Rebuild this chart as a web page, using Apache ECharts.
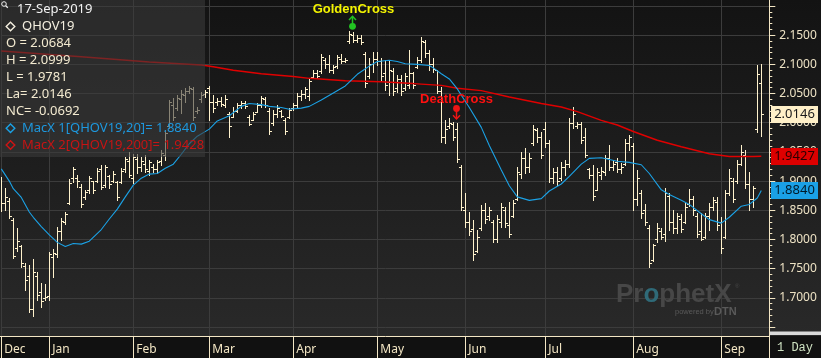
<!DOCTYPE html>
<html><head><meta charset="utf-8">
<script src="https://cdn.jsdelivr.net/npm/echarts@6/dist/echarts.min.js"></script>
<style>
html,body{margin:0;padding:0;background:#111;}
#c{width:821px;height:358px;background:linear-gradient(to bottom,#131313 0px,#292929 336px,#111 336px,#111 358px);}
</style></head><body><div id="c"></div>
<script>
// ---- categories (trading days) ----
const startDate = '2018-12-13', endDate = '2019-09-17';
const holidays = ['2018-12-25','2019-01-01','2019-01-21','2019-02-18','2019-04-19','2019-05-27','2019-07-04','2019-09-02'];
const monthNames = ['Jan','Feb','Mar','Apr','May','Jun','Jul','Aug','Sep','Oct','Nov','Dec'];

// ---- OHLC values ----
const opens = [1.890,1.862,1.866,1.833,1.785,1.788,1.755,1.738,1.680,1.738,1.710,1.700,
1.703,1.770,1.775,1.815,1.830,1.862,1.905,1.905,1.890,1.872,1.884,1.900,1.900,1.920,1.893,1.908,1.900,1.898,1.898,1.920,1.935,
1.905,1.938,1.925,1.930,1.918,1.925,1.920,1.935,1.945,1.995,2.030,2.025,2.040,2.048,2.055,2.058,2.020,2.040,2.050,
2.060,2.035,2.035,2.038,2.030,2.015,2.010,2.020,2.030,2.033,2.010,2.005,2.018,2.030,2.040,2.020,2.000,2.015,2.020,2.005,2.010,
2.025,2.030,2.045,2.050,2.045,2.078,2.085,2.088,2.108,2.100,2.090,2.098,2.110,2.106,2.140,2.150,2.142,2.145,2.118,2.080,2.100,
2.110,2.105,2.085,2.070,2.088,2.060,2.075,2.060,2.065,2.085,2.095,2.108,2.138,2.120,2.100,2.090,2.055,1.975,1.995,1.998,1.990,1.925,
1.850,1.830,1.818,1.780,1.820,1.850,1.840,1.830,1.800,1.830,1.850,1.825,1.840,1.870,1.912,1.940,1.925,1.965,1.988,1.975,
1.990,1.965,1.905,1.915,1.905,1.925,1.930,2.000,1.995,1.998,1.975,1.920,1.910,1.885,1.910,1.915,1.940,1.925,1.932,1.920,1.930,1.965,
1.960,1.870,1.880,1.850,1.820,1.765,1.800,1.815,1.810,1.875,1.830,1.820,1.835,1.830,1.860,1.870,1.840,1.815,1.805,1.840,1.855,1.865,
1.830,1.805,1.880,1.900,1.900,1.930,1.945,1.895,1.870,1.990,2.0684];
const highs = [1.907,1.888,1.871,1.836,1.819,1.790,1.759,1.756,1.766,1.744,1.725,1.723,
1.778,1.783,1.821,1.836,1.847,1.903,1.925,1.910,1.895,1.884,1.908,1.901,1.922,1.927,1.927,1.910,1.917,1.901,1.922,1.941,1.950,
1.946,1.946,1.941,1.944,1.936,1.929,1.936,1.953,1.987,2.039,2.042,2.047,2.056,2.059,2.063,2.061,2.027,2.052,2.056,
2.063,2.047,2.042,2.044,2.047,2.018,2.027,2.033,2.037,2.037,2.013,2.018,2.033,2.046,2.044,2.025,2.021,2.030,2.021,2.008,2.025,
2.033,2.051,2.056,2.061,2.076,2.090,2.090,2.117,2.111,2.116,2.099,2.116,2.117,2.111,2.157,2.155,2.150,2.150,2.121,2.111,2.121,
2.121,2.111,2.107,2.107,2.093,2.081,2.081,2.085,2.124,2.087,2.112,2.147,2.141,2.124,2.111,2.090,2.061,2.004,2.008,2.001,1.999,1.927,
1.879,1.847,1.833,1.816,1.859,1.862,1.855,1.833,1.842,1.862,1.855,1.864,1.867,1.924,1.950,1.956,1.948,1.996,1.991,1.984,
2.001,1.970,1.922,1.924,1.932,1.936,2.008,2.027,2.001,2.001,1.991,1.922,1.927,1.922,1.924,1.944,1.961,1.936,1.939,1.931,1.972,1.979,
1.965,1.919,1.884,1.860,1.824,1.793,1.828,1.819,1.889,1.879,1.850,1.845,1.843,1.864,1.886,1.874,1.845,1.845,1.845,1.862,1.872,1.872,
1.838,1.884,1.920,1.905,1.936,1.961,1.953,1.915,1.891,2.099,2.0999];
const lows = [1.849,1.850,1.836,1.768,1.781,1.752,1.713,1.675,1.668,1.696,1.684,1.696,
1.697,1.735,1.770,1.799,1.826,1.860,1.898,1.890,1.855,1.869,1.879,1.879,1.898,1.886,1.890,1.888,1.898,1.867,1.896,1.915,1.907,
1.896,1.914,1.918,1.915,1.910,1.915,1.914,1.927,1.936,1.991,2.004,2.021,2.016,2.035,2.051,2.004,2.016,2.035,2.044,
2.004,2.018,2.030,2.028,2.027,1.975,2.009,2.018,2.025,2.025,1.996,2.004,2.018,2.027,2.027,1.980,1.996,2.009,2.009,1.980,2.008,
2.021,2.027,2.039,2.042,2.039,2.076,2.076,2.085,2.093,2.087,2.085,2.093,2.102,2.104,2.136,2.138,2.138,2.135,2.061,2.076,2.087,
2.099,2.073,2.056,2.047,2.047,2.052,2.047,2.056,2.059,2.059,2.093,2.104,2.112,2.090,2.087,2.051,1.967,1.965,1.991,1.970,1.932,1.850,
1.821,1.807,1.764,1.778,1.816,1.828,1.833,1.795,1.795,1.821,1.821,1.804,1.838,1.867,1.905,1.914,1.915,1.961,1.967,1.939,
1.958,1.898,1.896,1.893,1.902,1.910,1.924,1.991,1.991,1.965,1.941,1.905,1.867,1.884,1.903,1.910,1.919,1.919,1.915,1.914,1.927,1.953,
1.850,1.859,1.836,1.824,1.752,1.763,1.795,1.800,1.797,1.816,1.811,1.811,1.812,1.829,1.857,1.842,1.804,1.799,1.802,1.816,1.850,1.816,
1.776,1.802,1.876,1.864,1.896,1.927,1.889,1.850,1.855,1.984,1.9781];
const closes = [1.862,1.872,1.840,1.772,1.797,1.760,1.730,1.680,1.745,1.705,1.695,1.702,
1.775,1.776,1.815,1.832,1.843,1.897,1.920,1.900,1.860,1.881,1.905,1.885,1.918,1.890,1.925,1.895,1.912,1.872,1.918,1.937,1.910,
1.942,1.925,1.935,1.920,1.932,1.920,1.932,1.948,1.982,2.035,2.010,2.042,2.050,2.055,2.060,2.010,2.022,2.048,2.052,
2.035,2.025,2.038,2.032,2.040,1.995,2.020,2.030,2.033,2.028,1.998,2.015,2.030,2.043,2.030,1.985,2.015,2.025,2.012,1.985,2.022,
2.030,2.045,2.050,2.058,2.072,2.085,2.080,2.112,2.100,2.090,2.095,2.112,2.105,2.108,2.152,2.142,2.145,2.138,2.068,2.100,2.110,
2.105,2.080,2.065,2.090,2.055,2.075,2.055,2.080,2.085,2.065,2.108,2.140,2.120,2.100,2.092,2.055,1.975,1.990,2.000,1.975,1.938,1.855,
1.830,1.815,1.775,1.805,1.850,1.835,1.850,1.800,1.835,1.855,1.828,1.810,1.862,1.915,1.940,1.925,1.940,1.990,1.975,1.945,
1.965,1.905,1.915,1.900,1.925,1.930,2.000,2.015,1.998,1.970,1.945,1.910,1.875,1.915,1.918,1.940,1.925,1.930,1.920,1.925,1.965,1.975,
1.870,1.905,1.845,1.830,1.760,1.790,1.820,1.805,1.880,1.830,1.820,1.840,1.818,1.855,1.870,1.850,1.810,1.800,1.840,1.855,1.868,1.825,
1.785,1.880,1.905,1.870,1.930,1.950,1.895,1.870,1.888,2.084,2.0146];

// ---- moving averages: [barIndex, value] ----
const ma20Points = [[0,1.921],[2,1.900],[3,1.887],[5,1.872],[7,1.847],[8,1.838],[10,1.822],[12,1.808],[14,1.795],[16,1.788],[18,1.793],[20,1.792],[22,1.797],[25,1.817],[27,1.835],[29,1.852],[31,1.873],[33,1.893],[35,1.905],[37,1.912],[39,1.913],[41,1.922],[43,1.929],[45,1.946],[47,1.964],[49,1.977],[52,1.989],[54,2.003],[57,2.012],[60,2.028],[62,2.033],[65,2.031],[67,2.028],[70,2.026],[72,2.023],[75,2.025],[77,2.028],[80,2.039],[83,2.051],[86,2.063],[89,2.083],[92,2.097],[94,2.105],[97,2.107],[99,2.105],[101,2.101],[104,2.100],[107,2.098],[108,2.094],[110,2.084],[112,2.075],[114,2.058],[115,2.047],[117,2.026],[120,1.992],[122,1.961],[125,1.919],[127,1.892],[129,1.873],[132,1.867],[135,1.870],[137,1.883],[140,1.895],[142,1.908],[145,1.929],[147,1.939],[150,1.940],[152,1.937],[154,1.934],[157,1.932],[160,1.928],[162,1.913],[165,1.885],[167,1.877],[170,1.867],[172,1.860],[175,1.844],[177,1.834],[180,1.828],[182,1.838],[185,1.857],[187,1.860],[189,1.871],[190,1.884]];
const ma200Points = [[0,2.123],[20,2.113],[37,2.104],[50,2.099],[53,2.096],[58,2.090],[65,2.084],[73,2.079],[77,2.076],[86,2.072],[95,2.070],[103,2.067],[110,2.064],[114,2.059],[120,2.055],[127,2.044],[135,2.033],[140,2.027],[144,2.019],[150,2.004],[154,1.996],[158,1.985],[164,1.970],[170,1.959],[177,1.947],[182,1.942],[188,1.942],[190,1.9427]];

// ---- axis / labels ----
const yMin = 1.65, yMax = 2.20, yStep = 0.05;
const legendLines = ['O = 2.0684','H = 2.0999','L = 1.9781','La= 2.0146','NC= -0.0692'];
const legendDate = '17-Sep-2019', legendSymbol = 'QHOV19';
const ma20Label = 'MacX 1[QHOV19,20]= 1.8840', ma200Label = 'MacX 2[QHOV19,200]= 1.9428';
const priceTags = [{v:2.0146, bg:'#fff0c8', fg:'#1a1a1a'},{v:1.9427, bg:'#dd0000', fg:'#2a0000'},{v:1.8840, bg:'#1aa0e6', fg:'#001a2a'}];
const goldenIdx = 88, deathIdx = 114;

function tradingDays(s, e) {
  const out = []; const d = new Date(s + 'T00:00:00Z'); const end = new Date(e + 'T00:00:00Z');
  while (d <= end) {
    const iso = d.toISOString().slice(0,10); const wd = d.getUTCDay();
    if (wd !== 0 && wd !== 6 && holidays.indexOf(iso) < 0) out.push(iso);
    d.setUTCDate(d.getUTCDate() + 1);
  }
  return out;
}
const dates = tradingDays(startDate, endDate);
const categories = dates.concat(['', '']);
function isMonthStart(i) {
  if (i >= dates.length) return false;
  if (i === 0) return true;
  return dates[i].slice(5,7) !== dates[i-1].slice(5,7);
}
const ohlcData = dates.map((d, i) => [i, opens[i], highs[i], lows[i], closes[i]]);

const CREAM = '#f3e6c4';
const chart = echarts.init(document.getElementById('c'), null, {renderer:'canvas'});

function renderOHLC(params, api) {
  const i = api.value(0);
  const ph = api.coord([i, api.value(2)]);
  const x = Math.round(ph[0]) + 0.5;
  const yH = Math.round(ph[1]);
  const yL = Math.round(api.coord([i, api.value(3)])[1]) + 1;
  const yO = Math.round(api.coord([i, api.value(1)])[1]) + 0.5;
  const yC = Math.round(api.coord([i, api.value(4)])[1]) + 0.5;
  const st = {stroke:'#fff2cc', lineWidth:1};
  return {type:'group', children:[
    {type:'line', shape:{x1:x,y1:yH,x2:x,y2:yL}, style:st},
    {type:'line', shape:{x1:x-2.5,y1:yO,x2:x,y2:yO}, style:st},
    {type:'line', shape:{x1:x,y1:yC,x2:x+2.5,y2:yC}, style:st}
  ]};
}

const option = {
  animation: false,
  backgroundColor: 'transparent',
  grid: [
    {left:1.3, right:51.7, top:6, bottom:31},
    {left:1.3, right:51.7, top:0, bottom:22}
  ],
  xAxis: [
    {gridIndex:0, type:'category', data:categories, boundaryGap:false, show:false},
    {gridIndex:1, type:'category', data:categories, boundaryGap:false, z:1,
      axisLine:{show:true, lineStyle:{color:CREAM, width:1}},
      axisTick:{show:true, interval:(i)=>isMonthStart(i), length:22, lineStyle:{color:CREAM}},
      axisLabel:{show:true, interval:(i)=>isMonthStart(i), formatter:(v)=> v ? monthNames[parseInt(v.slice(5,7),10)-1] : '',
        align:'left', padding:[0,0,0,3], margin:8, color:CREAM, fontSize:12, fontFamily:'Noto Sans'},
      splitLine:{show:true, interval:(i)=>isMonthStart(i), lineStyle:{color:'#3c3c3c', width:1}}},
    {gridIndex:1, type:'category', data:categories, boundaryGap:false, z:1,
      axisLine:{show:false}, axisLabel:{show:false}, splitLine:{show:false},
      axisTick:{show:true, interval:0, length:3, lineStyle:{color:CREAM}}}
  ],
  yAxis: [
    {gridIndex:0, type:'value', position:'right', min:yMin, max:yMax, interval:yStep, z:1,
      axisLine:{show:false},
      axisTick:{show:true, inside:false, length:6, lineStyle:{color:CREAM}},
      minorTick:{show:true, splitNumber:5, length:3, lineStyle:{color:CREAM}},
      axisLabel:{margin:10, color:'#ede2c4', fontSize:12, fontFamily:'Noto Sans',
        formatter:(v)=> (v < yMin + 0.025 || v > yMax - 0.025) ? '' : v.toFixed(4)},
      splitLine:{show:true, lineStyle:{color:'#3c3c3c', width:1}}},
    {gridIndex:1, type:'value', show:false, splitLine:{show:false}}
  ],
  series: [
    {type:'custom', name:'QHOV19', xAxisIndex:0, yAxisIndex:0, renderItem:renderOHLC, data:ohlcData,
      encode:{x:0, y:[1,2,3,4]}, clip:true, z:3},
    {type:'line', name:'MA200', xAxisIndex:0, yAxisIndex:0, data:ma200Points, symbol:'none',
      lineStyle:{color:'#e00000', width:1.5}, z:4},
    {type:'line', name:'MA20', xAxisIndex:0, yAxisIndex:0, data:ma20Points, symbol:'none',
      lineStyle:{color:'#1ba2e6', width:1.1}, z:5}
  ]
};
chart.setOption(option);

const yPix = (v) => chart.convertToPixel({yAxisIndex:0}, v);
const xPix = (i) => chart.convertToPixel({xAxisIndex:0}, i);
const FONT = 'Noto Sans';
const g = [];
// legend overlay box
g.push({type:'rect', shape:{x:0,y:0,width:205,height:157}, style:{fill:'rgba(58,58,58,0.6)'}, z:100, silent:true});
// magnifier
g.push({type:'circle', shape:{cx:4,cy:4,r:2.3}, style:{fill:'none', stroke:'#f0f0f0', lineWidth:1}, z:101});
g.push({type:'line', shape:{x1:5.7,y1:5.7,x2:7.8,y2:7.8}, style:{stroke:'#f0f0f0', lineWidth:1.3}, z:101});
g.push({type:'text', x:17, y:9, style:{text:legendDate, fill:'#f2f2f2', font:'13px "'+FONT+'"', verticalAlign:'middle'}, z:101});
function diamond(cx, cy, color) {
  return {type:'polygon', shape:{points:[[cx,cy-4.3],[cx+4.3,cy],[cx,cy+4.3],[cx-4.3,cy]]}, style:{fill:'none', stroke:color, lineWidth:1.4}, z:101};
}
g.push(diamond(10.5, 26.5, '#f5f0e0'));
g.push({type:'text', x:22, y:26.7, style:{text:legendSymbol, fill:'#f5f0e0', font:'13px "'+FONT+'"', verticalAlign:'middle'}, z:101});
legendLines.forEach((t, k) => {
  g.push({type:'text', x:6, y:43.5 + k*16.9, style:{text:t, fill:'#f3ead0', font:'13px "'+FONT+'"', verticalAlign:'middle'}, z:101});
});
g.push(diamond(10.5, 128.3, '#1ba2e6'));
g.push({type:'text', x:22, y:128.3, style:{text:ma20Label, fill:'#1e98de', font:'13px "'+FONT+'"', verticalAlign:'middle'}, z:101});
g.push(diamond(10.5, 145, '#d01515'));
g.push({type:'text', x:22, y:145, style:{text:ma200Label, fill:'#c81414', font:'13px "'+FONT+'"', verticalAlign:'middle'}, z:101});

// Golden cross marker
const gx = Math.round(xPix(goldenIdx)) - 1 + 0.5;
g.push({type:'text', x:gx+1, y:9, style:{text:'GoldenCross', fill:'#f4f400', font:'bold 13px "Liberation Sans"', align:'center', verticalAlign:'middle'}, z:90});
g.push({type:'line', shape:{x1:gx,y1:26,x2:gx,y2:16.5}, style:{stroke:'#22c422', lineWidth:1.5}, z:90});
g.push({type:'polyline', shape:{points:[[gx-3.5,20],[gx,16.3],[gx+3.5,20]]}, style:{stroke:'#22c422', lineWidth:1.5, fill:'none'}, z:90});
g.push({type:'circle', shape:{cx:gx,cy:26.3,r:3.4}, style:{fill:'#22c422'}, z:90});
// Death cross marker
const dx = Math.round(xPix(deathIdx)) - 0.5;
g.push({type:'text', x:dx, y:99, style:{text:'DeathCross', fill:'#ff1010', font:'bold 13px "Liberation Sans"', align:'center', verticalAlign:'middle'}, z:90});
g.push({type:'line', shape:{x1:dx,y1:108.5,x2:dx,y2:119}, style:{stroke:'#ee1515', lineWidth:1.5}, z:90});
g.push({type:'polyline', shape:{points:[[dx-3.5,115.3],[dx,119],[dx+3.5,115.3]]}, style:{stroke:'#ee1515', lineWidth:1.5, fill:'none'}, z:90});
g.push({type:'circle', shape:{cx:dx,cy:108.5,r:3.4}, style:{fill:'#ee1515'}, z:90});

// watermark
g.push({type:'text', x:616, y:295, style:{text:'{a|Pr}{b|o}{a|phetX}', verticalAlign:'middle',
  rich:{a:{fill:'#474747', font:'bold 26px "Liberation Sans"'}, b:{fill:'#2f6a78', font:'bold 26px "Liberation Sans"'}}}, z:1, silent:true});
g.push({type:'text', x:735, y:286, style:{text:'®', fill:'#474747', font:'6px "Liberation Sans"', verticalAlign:'middle'}, z:1});
g.push({type:'text', x:675, y:312, style:{text:'powered by', fill:'#5a5a5a', font:'7.5px "Liberation Sans"', verticalAlign:'middle'}, z:1});
g.push({type:'text', x:714, y:311.5, style:{text:'DTN', fill:'#5a5a5a', font:'bold 11px "Liberation Sans"', verticalAlign:'middle'}, z:1});

// right axis line (full height) and bottom-right box
g.push({type:'line', shape:{x1:769.5,y1:0,x2:769.5,y2:358}, style:{stroke:CREAM, lineWidth:1}, z:60});
g.push({type:'line', shape:{x1:0,y1:336.5,x2:2,y2:336.5}, style:{stroke:CREAM, lineWidth:1}, z:60});
g.push({type:'rect', shape:{x:770,y:331.5,width:51,height:3.5}, style:{fill:'#d9d9d9'}, z:60});
g.push({type:'text', x:777, y:347.5, style:{text:'1 Day', fill:'#cfe2c2', font:'12px "Liberation Mono"', verticalAlign:'middle'}, z:60});

// price tags
priceTags.forEach(t => {
  const y = yPix(t.v);
  g.push({type:'rect', shape:{x:771, y:Math.round(y)-8, width:47, height:17}, style:{fill:t.bg}, z:110});
  g.push({type:'text', x:794.5, y:Math.round(y)+0.5, style:{text:t.v.toFixed(4), fill:t.fg, font:'13px "'+FONT+'"', align:'center', verticalAlign:'middle'}, z:111});
});

chart.setOption({graphic:{elements:g}});
</script></body></html>
